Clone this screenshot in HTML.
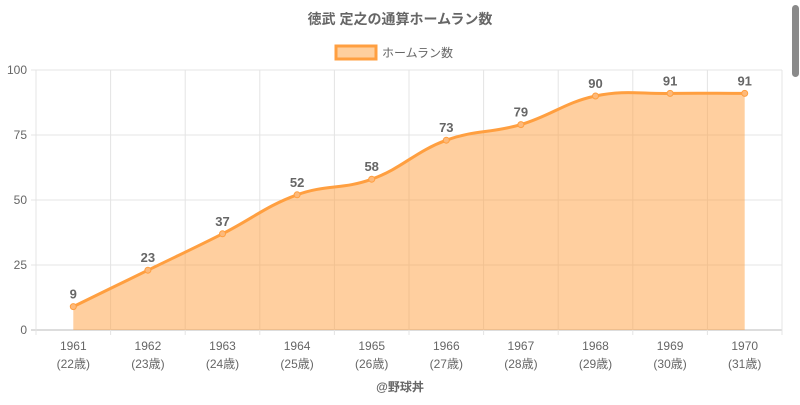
<!DOCTYPE html>
<html><head><meta charset="utf-8"><style>
body{margin:0;background:#fff;width:800px;height:400px;overflow:hidden}
svg{font-family:"Liberation Sans","Noto Sans CJK JP",sans-serif}
</style></head><body>
<svg id="c" width="800" height="400">
<rect x="792" y="5" width="7" height="72" rx="3.5" fill="#8a8a8a"/>
<text x="400" y="24" text-anchor="middle" font-size="14" font-weight="bold" fill="#666">徳武 定之の通算ホームラン数</text>
<g>
<rect x="336" y="46" width="40" height="13" fill="#fecf9e" stroke="#ff9f40" stroke-width="3"/>
<text x="382" y="57" font-size="12" fill="#666">ホームラン数</text>
</g>
<g id="grid"></g><g id="series"></g><g id="labels"></g>
<text x="400" y="391" text-anchor="middle" font-size="12" font-weight="bold" fill="#666">@野球丼</text>
</svg>
<script>
const years=["1961","1962","1963","1964","1965","1966","1967","1968","1969","1970"];
const ages=["(22歳)","(23歳)","(24歳)","(25歳)","(26歳)","(27歳)","(28歳)","(29歳)","(30歳)","(31歳)"];
const homeRuns=[9,23,37,52,58,73,79,90,91,91];
const yTicks=[0,25,50,75,100];
const NS="http://www.w3.org/2000/svg";
const L=36,R=782,T=70,B=330,yMax=100;
const bw=(R-L)/years.length;
const xPos=i=>L+bw*(i+0.5);
const yPos=v=>B-(v/yMax)*(B-T);
function mk(tag,attrs,parent,txt){const e=document.createElementNS(NS,tag);for(const k in attrs)e.setAttribute(k,attrs[k]);if(txt!=null)e.textContent=txt;document.getElementById(parent).appendChild(e);return e;}
yTicks.forEach(t=>{
  const l=mk('line',{x1:L-5,x2:R,y1:yPos(t),y2:yPos(t),stroke:t===0?'#bbb':'#e4e4e4','stroke-width':1},'grid');
  
  
  const tx=mk('text',{x:L-9,y:yPos(t)+4,'text-anchor':'end','font-size':12,fill:'#666'},'grid',t);
  
  
});
for(let i=0;i<=years.length;i++){
  const x=L+bw*i;
  const l=mk('line',{x1:x,x2:x,y1:T,y2:B+5,stroke:'#e4e4e4','stroke-width':1},'grid');
  
  
}
years.forEach((y,i)=>{
  const t=mk('text',{x:xPos(i),y:350,'text-anchor':'middle','font-size':12,fill:'#666'},'grid',y);
  
  
  const a=mk('text',{x:xPos(i),y:368,'text-anchor':'middle','font-size':12,fill:'#666'},'grid',ages[i]);
  
  
});
const pts=homeRuns.map((v,i)=>[xPos(i),yPos(v)]);
// Chart.js-style spline, tension 0.4
const tension=0.4;
const cps=pts.map((p,i)=>{
  const prev=pts[Math.max(0,i-1)],next=pts[Math.min(pts.length-1,i+1)];
  const d01=Math.hypot(p[0]-prev[0],p[1]-prev[1]),d12=Math.hypot(next[0]-p[0],next[1]-p[1]);
  let s01=d01/(d01+d12)||0,s12=d12/(d01+d12)||0;
  const fa=tension*s01,fb=tension*s12;
  return {p:[p[0]-fa*(next[0]-prev[0]),p[1]-fa*(next[1]-prev[1])],n:[p[0]+fb*(next[0]-prev[0]),p[1]+fb*(next[1]-prev[1])]};
});
let d=`M${pts[0][0]},${pts[0][1]}`;
for(let i=1;i<pts.length;i++){d+=` C${cps[i-1].n[0]},${cps[i-1].n[1]} ${cps[i].p[0]},${cps[i].p[1]} ${pts[i][0]},${pts[i][1]}`;}
const area=mk('path',{d:d+` L${pts[pts.length-1][0]},${B} L${pts[0][0]},${B} Z`,fill:'rgba(255,159,64,0.5)'},'series');


const line=mk('path',{d:d,fill:'none',stroke:'#ff9f40','stroke-width':3},'series');


pts.forEach((p,i)=>{
  const c=mk('circle',{cx:p[0],cy:p[1],r:3,fill:'#fdb97a',stroke:'#ff9f40','stroke-width':1},'series');
  
  
  const t=mk('text',{x:p[0],y:p[1]-8,'text-anchor':'middle','font-size':13,'font-weight':'bold',fill:'#666'},'labels',homeRuns[i]);
  
  
});
</script>
</body></html>
